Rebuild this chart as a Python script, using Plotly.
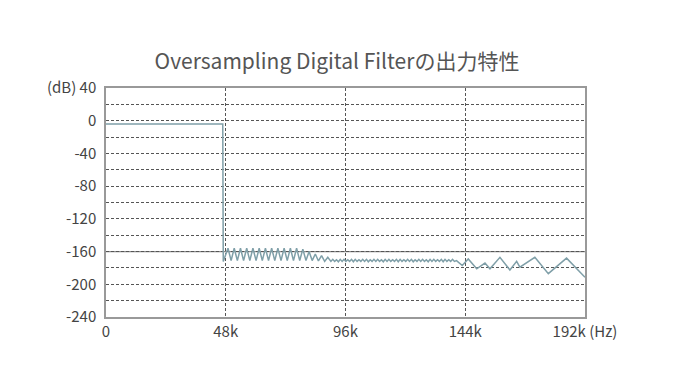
import plotly.graph_objects as go

freq_k = [0, 46.8, 47.0,
          48.9, 50.15, 51.4, 52.65, 53.9, 55.15, 56.4, 57.65, 58.9, 60.15, 61.4, 62.65,
          63.9, 65.15, 66.4, 67.65, 68.9, 70.15, 71.4, 72.65, 73.9, 75.15, 76.4, 77.65,
          78.9, 80.15, 81.4, 82.65, 83.9, 85.15, 86.4, 87.65, 88.9, 90.15,
          90.9, 91.65, 92.4, 93.15, 93.9, 94.65, 95.4, 96.15, 96.9, 97.65, 98.4, 99.15,
          99.9, 100.65, 101.4, 102.15, 102.9, 103.65, 104.4, 105.15, 105.9, 106.65,
          107.4, 108.15, 108.9, 109.65, 110.4, 111.15, 111.9, 112.65, 113.4, 114.15,
          114.9, 115.65, 116.4, 117.15, 117.9, 118.65, 119.4, 120.15, 120.9, 121.65,
          122.4, 123.15, 123.9, 124.65, 125.4, 126.15, 126.9, 127.65, 128.4, 129.15,
          129.9, 130.65, 131.4, 132.15, 132.9, 133.65, 134.4, 135.15, 135.9, 136.65,
          137.4, 138.15, 138.9, 139.65,
          140.5, 142.8, 145.2, 148.6, 151.9, 153.9, 157.9, 161.9, 164.6, 165.9,
          171.9, 177.3, 184.6, 192.0]

level_db = [-4, -4, -172,
            -156, -171, -156, -171, -156, -171, -156, -171, -156, -171, -156, -171,
            -156, -171, -156, -171, -156, -171, -156, -171, -156, -171, -156, -171,
            -157, -171, -160, -171, -163, -171.5, -165, -172, -167, -172,
            -169.5, -172, -170, -172.5, -169.5, -172, -169.5, -172, -170, -172, -169.5, -172.5,
            -169.5, -172, -170, -172, -169.5, -172, -169.5, -172.5, -170, -172,
            -169.5, -172, -169.5, -172, -170, -172.5, -169.5, -172, -169.5, -172,
            -170, -172, -169.5, -172.5, -169.5, -172, -170, -172, -169.5, -172,
            -169.5, -172.5, -170, -172, -169.5, -172, -169.5, -172, -170, -172.5,
            -169.5, -172, -169.5, -172, -170, -172, -169.5, -172.5, -169.5, -172,
            -170, -172, -169.5, -172,
            -171, -177, -169, -181, -174, -181, -167, -182.5, -172, -179,
            -167, -187, -168, -191.5]

x_ticks = [0, 48, 96, 144, 192]
x_labels = ["0", "48k", "96k", "144k", "192k (Hz)"]
y_ticks = [40, 0, -40, -80, -120, -160, -200, -240]
y_labels = ["(dB) 40", "0", "-40", "-80", "-120", "-160", "-200", "-240"]
ref_level = -160

FONT = "Noto Sans CJK JP, Noto Sans, sans-serif"

fig = go.Figure()
fig.add_trace(go.Scatter(x=freq_k, y=level_db, mode="lines",
                         line=dict(color="#7f9fa8", width=1.5), hoverinfo="skip"))

fig.add_shape(type="line", xref="paper", x0=0, x1=1, yref="y", y0=ref_level, y1=ref_level,
              line=dict(color="#8a8a8a", width=1.3), layer="below")

fig.update_layout(
    width=674, height=391,
    margin=dict(l=106, r=89, t=88, b=74),
    paper_bgcolor="white", plot_bgcolor="white",
    showlegend=False,
    title=dict(text="Oversampling Digital Filterの出力特性", x=0.5, xanchor="center",
               y=1 - 62 / 391, yanchor="middle",
               font=dict(family=FONT, size=21, color="#555555")),
    font=dict(family=FONT, size=15, color="#444444"),
)
fig.update_xaxes(range=[0, 192], tickvals=x_ticks, ticktext=x_labels,
                 showgrid=True, gridcolor="#555555", griddash="3px,2px", gridwidth=1,
                 showline=True, linecolor="#999999", linewidth=1.5, mirror=True,
                 zeroline=False, ticks="", tickfont=dict(size=15, color="#444444"))
fig.update_yaxes(range=[-240, 40], tickvals=y_ticks, ticktext=y_labels,
                 showgrid=True, gridcolor="#555555", griddash="3px,2px", gridwidth=1,
                 minor=dict(dtick=20, showgrid=True, gridcolor="#555555", griddash="3px,2px",
                            gridwidth=1),
                 showline=True, linecolor="#999999", linewidth=1.5, mirror=True,
                 zeroline=False, ticks="", ticklabelstandoff=5,
                 tickfont=dict(size=15, color="#444444"))

fig.write_html("out.html")
